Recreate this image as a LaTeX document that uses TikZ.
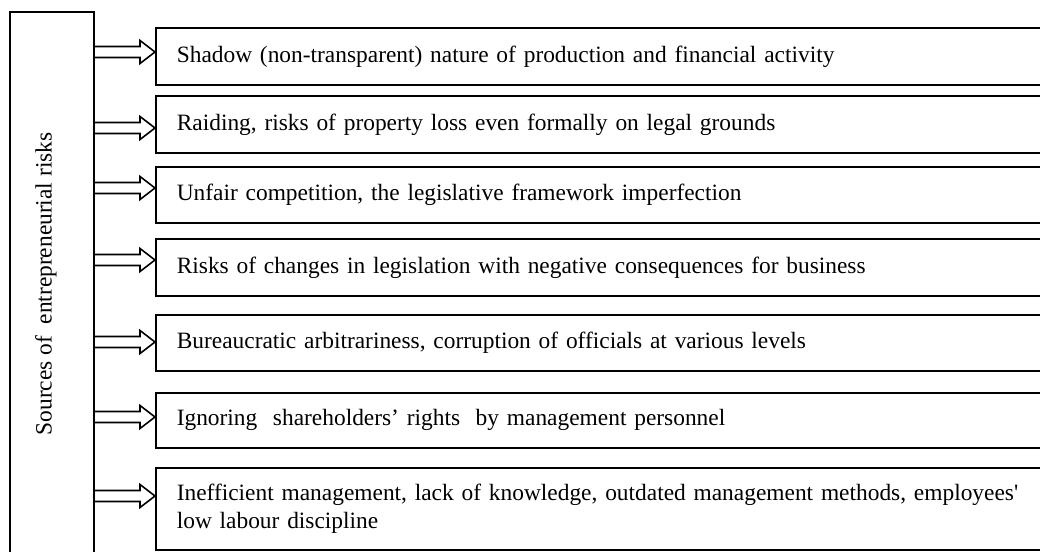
\documentclass[tikz,border=0pt]{standalone}
\usepackage{fontspec}
\setmainfont{Liberation Serif}
\usetikzlibrary{calc}
\tikzset{
  riskbox/.style={draw, line width=1.6, anchor=north west, minimum width=900,
    text width=858, align=left, inner xsep=21, inner ysep=0},
  fatarrow/.style={line width=1.6, line join=miter, to path={
      ($(\tikztostart)+(0,5.5)$) -- ($(\tikztotarget)+(-15,5.5)$)
      -- ($(\tikztotarget)+(-15,11.5)$) -- (\tikztotarget)
      -- ($(\tikztotarget)+(-15,-11.5)$) -- ($(\tikztotarget)+(-15,-5.5)$)
      -- ($(\tikztostart)+(0,-5.5)$)}}
}
\begin{document}
\begin{tikzpicture}[x=1pt,y=-1pt,font=\fontsize{23.4}{28.5}\selectfont]
  \useasboundingbox (0,0) rectangle (1040,551);
  \clip (0,0) rectangle (1040,551);
  % left box
  \node[draw, line width=1.6, minimum width=84, minimum height=544, inner sep=0] (src) at (52,284) {};
  \node[rotate=90] (srctext) at ([xshift=-6]src.center) {Sources of\ \ entrepreneurial risks};
  % risk boxes
  \node[riskbox, minimum height=57] (r1) at (155,27) {Shadow (non-transparent) nature of production and financial activity};
  \node[riskbox, minimum height=57] (r2) at (155,95) {Raiding, risks of property loss even formally on legal grounds};
  \node[riskbox, minimum height=56] (r3) at (155,166) {Unfair competition, the legislative framework imperfection};
  \node[riskbox, minimum height=57] (r4) at (155,238) {Risks of changes in legislation with negative consequences for business};
  \node[riskbox, minimum height=56] (r5) at (155,314) {Bureaucratic arbitrariness, corruption of officials at various levels};
  \node[riskbox, minimum height=55] (r6) at (155,392) {Ignoring\ \ shareholders’ rights\ \ by management personnel};
  \node[riskbox, minimum height=82] (r7) at (155,467) {Inefficient management, lack of knowledge, outdated management methods, employees\textquotesingle\\low labour discipline};
  % arrows
  \foreach \k/\ay in {1/52,2/128,3/188,4/260,5/342,6/417,7/496}
    \draw[fatarrow] (src.east |- 0,\ay) to (r\k.west |- 0,\ay);
\end{tikzpicture}
\end{document}
